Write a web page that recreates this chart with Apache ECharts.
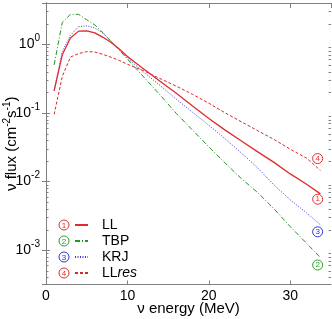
<!DOCTYPE html>
<html><head><meta charset="utf-8">
<script src="https://cdn.jsdelivr.net/npm/echarts@6/dist/echarts.min.js"></script>
<style>html,body{margin:0;padding:0;background:#fff}#c{width:332px;height:319px}</style>
</head><body><div id="c"></div>
<script>
// ---- data ----
const energy    = [1, 2, 3, 4, 5, 6, 7, 8, 9, 10, 12, 14, 16, 18, 20, 22, 24, 26, 28, 30, 32, 33.7];
const fluxLL    = [0.21, 0.70, 1.23, 1.55, 1.56, 1.46, 1.26, 1.06, 0.85, 0.66, 0.436, 0.288, 0.193, 0.126, 0.083, 0.056, 0.039, 0.027, 0.019, 0.0129, 0.0091, 0.0066];
const fluxTBP   = [0.50, 2.08, 2.72, 2.72, 2.27, 1.91, 1.47, 1.09, 0.82, 0.607, 0.333, 0.183, 0.098, 0.056, 0.032, 0.0186, 0.011, 0.0069, 0.0040, 0.0022, 0.00126, 0.00078];
const fluxKRJ   = [0.21, 0.78, 1.35, 1.80, 1.85, 1.72, 1.45, 1.11, 0.83, 0.63, 0.39, 0.251, 0.158, 0.102, 0.066, 0.042, 0.026, 0.0158, 0.0089, 0.0054, 0.0035, 0.00234];
const fluxLLres = [0.095, 0.34, 0.65, 0.73, 0.78, 0.77, 0.71, 0.645, 0.58, 0.51, 0.41, 0.316, 0.245, 0.186, 0.138, 0.100, 0.074, 0.055, 0.041, 0.0295, 0.0219, 0.0145];
const seriesNames = ['LL', 'TBP', 'KRJ', 'LL res'];
const markerDigits = ['1', '2', '3', '4'];
const markerEnergy = 33.36;
const markerFlux = [0.00552, 0.000608, 0.00185, 0.0216];
const xTicks = [0, 10, 20, 30];
const yTickExponents = [-3, -2, -1, 0];

// ---- chart ----
const FONT = 'Liberation Sans, Arial, sans-serif';
const AX = '#808080';
const colors = ['#e02b2b', '#259325', '#3b3bdc', '#d42a2a'];
const circleColors = ['#e03030', '#2f9f2f', '#3030e0', '#e03030'];
const lineTypes = ['solid', [5, 2, 1, 2], [1, 1.5], [3, 2]];
const lineWidths = [1.3, 1, 1, 1];
const fluxes = [fluxLL, fluxTBP, fluxKRJ, fluxLLres];
const yMin = Math.pow(10, -3.5), yMax = Math.pow(10, 0.6);

const chart = echarts.init(document.getElementById('c'), null, {renderer: 'canvas'});

const series = seriesNames.map((name, i) => ({
  name, type: 'line', symbol: 'none', showSymbol: false, animation: false,
  data: energy.map((e, j) => [e, fluxes[i][j]]),
  lineStyle: {color: colors[i], type: lineTypes[i], width: lineWidths[i]},
  itemStyle: {color: colors[i]},
  z: 2 + (3 - i),
  markPoint: {
    symbol: 'circle', symbolSize: 10, animation: false, silent: true,
    data: [{coord: [markerEnergy, markerFlux[i]]}],
    itemStyle: {color: 'rgba(255,255,255,0)', borderColor: circleColors[i], borderWidth: 1},
    label: {show: true, position: 'inside', formatter: markerDigits[i], color: circleColors[i], fontSize: 8, fontFamily: FONT}
  }
}));

const yLabelFmt = v => {
  const l = Math.log10(v), e = Math.round(l);
  if (Math.abs(l - e) > 1e-6 || yTickExponents.indexOf(e) < 0) return '';
  return '{b|10}{s|' + e + '}';
};

chart.setOption({
  animation: false,
  backgroundColor: '#fff',
  grid: {left: 46, right: 1, top: 3, bottom: 34.5, containLabel: false, outerBoundsMode: 'none'},
  xAxis: [{
    type: 'value', min: 0, max: 35, interval: 10, position: 'bottom',
    axisLine: {show: true, lineStyle: {color: AX, width: 1}},
    axisTick: {show: true, inside: true, length: 4, lineStyle: {color: AX}},
    splitLine: {show: false},
    axisLabel: {color: '#000', fontSize: 14, fontFamily: FONT, margin: 5, showMaxLabel: false,
      formatter: v => xTicks.indexOf(v) >= 0 ? String(v) : ''},
    name: 'ν energy (MeV)', nameLocation: 'middle', nameGap: 17, nameMoveOverlap: false,
    nameTextStyle: {color: '#000', fontSize: 15, fontFamily: FONT}
  }, {
    type: 'value', min: 0, max: 35, interval: 10, position: 'top',
    axisLine: {show: true, lineStyle: {color: AX, width: 1}},
    axisTick: {show: true, inside: true, length: 5, lineStyle: {color: AX}},
    splitLine: {show: false}, axisLabel: {show: false}
  }],
  yAxis: [{
    type: 'log', logBase: 10, min: yMin, max: yMax, position: 'left',
    axisLine: {show: true, lineStyle: {color: AX, width: 1}},
    axisTick: {show: true, inside: true, length: 4, lineStyle: {color: AX}},
    splitLine: {show: false},
    axisLabel: {formatter: yLabelFmt, showMinLabel: false, showMaxLabel: false, margin: 6,
      rich: {
        b: {fontSize: 14, fontFamily: FONT, color: '#000', lineHeight: 22},
        s: {fontSize: 10, fontFamily: FONT, color: '#000', verticalAlign: 'top'}
      }},
    name: '{b|ν flux (cm}{s|-2}{b|s}{s|-1}{b|)}', nameLocation: 'middle', nameGap: 24, nameMoveOverlap: false,
    nameTextStyle: {rich: {
      b: {fontSize: 15, fontFamily: FONT, color: '#000', lineHeight: 20},
      s: {fontSize: 10, fontFamily: FONT, color: '#000', verticalAlign: 'top'}
    }}
  }, {
    type: 'log', logBase: 10, min: yMin, max: yMax, position: 'right',
    axisLine: {show: true, lineStyle: {color: AX, width: 1}},
    axisTick: {show: true, inside: true, length: 4, lineStyle: {color: AX}},
    splitLine: {show: false}, axisLabel: {show: false}
  }],
  legend: {
    orient: 'vertical', left: 74, top: 218, padding: 0,
    itemWidth: 13, itemHeight: 14, itemGap: 2,
    data: seriesNames,
    itemStyle: {color: 'rgba(0,0,0,0)', borderColor: 'rgba(0,0,0,0)', borderWidth: 0},
    formatter: n => n === 'LL res' ? '{n|LL}{i|res}' : n,
    textStyle: {fontSize: 14, fontFamily: FONT, color: '#000', padding: [0, 0, 0, 9],
      rich: {
        n: {fontSize: 14, fontFamily: FONT, color: '#000'},
        i: {fontSize: 14, fontFamily: FONT, color: '#000', fontStyle: 'italic'}
      }}
  },
  series
});

// minor log ticks and legend circled digits
const g = [];
const xl = chart.convertToPixel({xAxisIndex: 0}, 0);
const xr = chart.convertToPixel({xAxisIndex: 0}, 35);
for (let d = -4; d <= 0; d++) {
  for (let k = 2; k <= 9; k++) {
    const v = k * Math.pow(10, d);
    if (v < yMin || v > yMax) continue;
    const py = Math.round(chart.convertToPixel({yAxisIndex: 0}, v)) + 0.5;
    g.push({type: 'line', silent: true, shape: {x1: xl, y1: py, x2: xl + 2.5, y2: py}, style: {stroke: AX, lineWidth: 1}});
    g.push({type: 'line', silent: true, shape: {x1: xr - 2.5, y1: py, x2: xr, y2: py}, style: {stroke: AX, lineWidth: 1}});
  }
}
seriesNames.forEach((n, i) => {
  const cy = 218 + 7 + i * 16;
  g.push({type: 'circle', silent: true, shape: {cx: 64, cy, r: 5}, style: {fill: 'rgba(0,0,0,0)', stroke: circleColors[i], lineWidth: 1}, z: 100});
  g.push({type: 'text', silent: true, x: 64, y: cy + 0.5, style: {text: markerDigits[i], fill: circleColors[i], fontSize: 8, fontFamily: FONT, align: 'center', verticalAlign: 'middle'}, z: 100});
});
chart.setOption({graphic: g});
</script>
</body></html>
